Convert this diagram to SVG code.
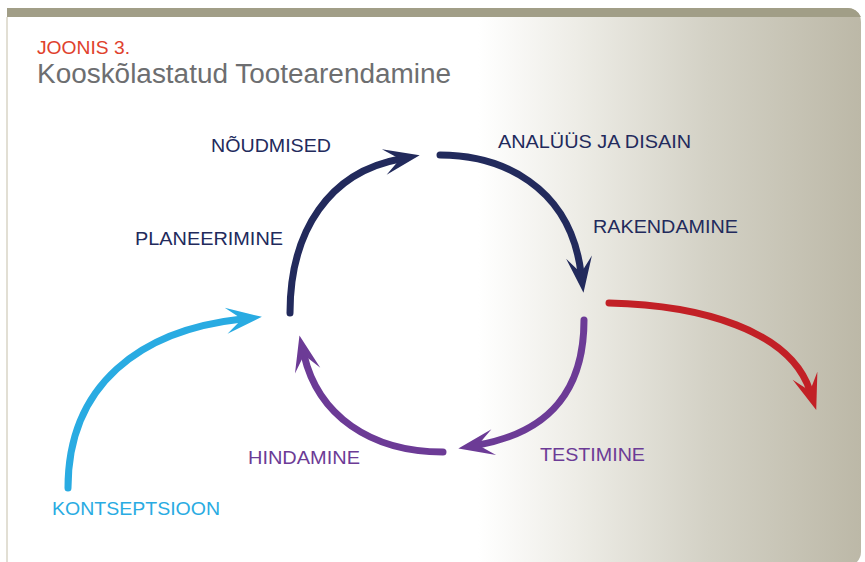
<svg xmlns="http://www.w3.org/2000/svg" width="865" height="562" viewBox="0 0 865 562">
  <style>
    .lbl { font-family: "Liberation Sans", Arial, sans-serif; font-size: 19px; }
    .navy { fill: #222a5c; }
    .purple { fill: #6c3b96; }
    .blue { fill: #29abe2; }
    .arc { fill: none; stroke-width: 7; stroke-linecap: round; }
  </style>
  <defs>
    <linearGradient id="bg" gradientUnits="userSpaceOnUse" x1="478" y1="0" x2="862" y2="0">
      <stop offset="0" stop-color="#ffffff"/>
      <stop offset="0.25" stop-color="#eeede7"/>
      <stop offset="0.6" stop-color="#d3d1c5"/>
      <stop offset="1" stop-color="#bcb8a7"/>
    </linearGradient>
    <marker id="mNavy" markerUnits="userSpaceOnUse" viewBox="-16 -14 37 28" refX="0" refY="0" markerWidth="37" markerHeight="28" orient="auto" overflow="visible">
      <path d="M20,0 L-16,-13 L0,0 L-16,13 Z" fill="#222a5c"/>
    </marker>
    <marker id="mPurple" markerUnits="userSpaceOnUse" viewBox="-16 -14 37 28" refX="0" refY="0" markerWidth="37" markerHeight="28" orient="auto" overflow="visible">
      <path d="M20,0 L-16,-13 L0,0 L-16,13 Z" fill="#6c3b96"/>
    </marker>
    <marker id="mBlue" markerUnits="userSpaceOnUse" viewBox="-16 -14 37 28" refX="0" refY="0" markerWidth="37" markerHeight="28" orient="auto" overflow="visible">
      <path d="M20,0 L-16,-13 L0,0 L-16,13 Z" fill="#29abe2"/>
    </marker>
    <marker id="mRed" markerUnits="userSpaceOnUse" viewBox="-16 -14 37 28" refX="0" refY="0" markerWidth="37" markerHeight="28" orient="auto" overflow="visible">
      <path d="M20,0 L-16,-13 L0,0 L-16,13 Z" fill="#c22026"/>
    </marker>
  </defs>

  <g id="frame">
    <rect x="0" y="0" width="865" height="562" fill="#ffffff"/>
    <path d="M7,8 H847 A14,14 0 0 1 861,22 V552 A14,14 0 0 1 847,566 H7 Z" fill="url(#bg)"/>
    <path d="M7,8 H847 A14,14 0 0 1 861,17 H7 Z" fill="#a19e87"/>
    <line x1="7" y1="17" x2="7" y2="562" stroke="#d8d4c6" stroke-width="1.5"/>
  </g>

  <g id="title">
    <text x="37" y="54" font-family="'Liberation Sans', Arial, sans-serif" font-size="19" fill="#e0412c" textLength="93" lengthAdjust="spacingAndGlyphs">JOONIS 3.</text>
    <text x="37" y="83" font-family="'Liberation Sans', Arial, sans-serif" font-size="27" fill="#6d6e70" textLength="414" lengthAdjust="spacingAndGlyphs">Kooskõlastatud Tootearendamine</text>
  </g>

  <g id="connectors">
    <path class="arc" stroke="#222a5c" d="M290,313 C290,230 330,172 400,159" marker-end="url(#mNavy)"/>
    <path class="arc" stroke="#222a5c" d="M440,155 C500,155 570,185 581,273" marker-end="url(#mNavy)"/>
    <path class="arc" stroke="#6c3b96" d="M584,320 C584,390 550,432 478,445" marker-end="url(#mPurple)"/>
    <path class="arc" stroke="#6c3b96" d="M443,452 C370,452 318,415 304,355" marker-end="url(#mPurple)"/>
    <path class="arc" stroke="#29abe2" d="M68,488 C68,385 140,330 242,319" marker-end="url(#mBlue)"/>
    <path class="arc" stroke="#c22026" d="M609,303 C700,305 790,330 810,391" marker-end="url(#mRed)"/>
  </g>

  <g id="noudmised"><text class="lbl navy" x="211" y="152" textLength="120" lengthAdjust="spacingAndGlyphs">NÕUDMISED</text></g>
  <g id="analuus"><text class="lbl navy" x="498" y="148" textLength="193" lengthAdjust="spacingAndGlyphs">ANALÜÜS JA DISAIN</text></g>
  <g id="planeerimine"><text class="lbl navy" x="135" y="245" textLength="148" lengthAdjust="spacingAndGlyphs">PLANEERIMINE</text></g>
  <g id="rakendamine"><text class="lbl navy" x="593" y="233" textLength="145" lengthAdjust="spacingAndGlyphs">RAKENDAMINE</text></g>
  <g id="testimine"><text class="lbl purple" x="540" y="461" textLength="105" lengthAdjust="spacingAndGlyphs">TESTIMINE</text></g>
  <g id="hindamine"><text class="lbl purple" x="248" y="464" textLength="112" lengthAdjust="spacingAndGlyphs">HINDAMINE</text></g>
  <g id="kontseptsioon"><text class="lbl blue" x="52" y="515" textLength="168" lengthAdjust="spacingAndGlyphs">KONTSEPTSIOON</text></g>
</svg>
